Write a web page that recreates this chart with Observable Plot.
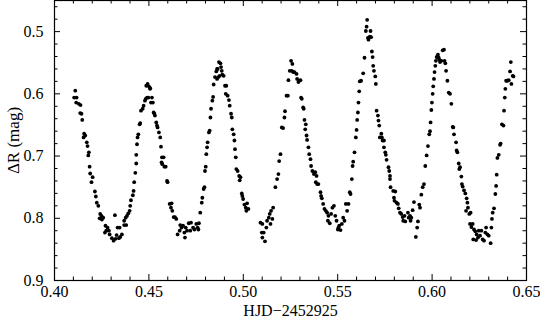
<!DOCTYPE html>
<html><head><meta charset="utf-8">
<script src="https://cdn.jsdelivr.net/npm/d3@7"></script>
<script src="https://cdn.jsdelivr.net/npm/@observablehq/plot@0.6"></script>
<style>body{margin:0;background:#fff}</style>
</head><body><div id="chart"></div>
<script>
// Light curve: HJD - 2452925 vs differential R magnitude
const hjd = [
0.4110,0.4104,0.4117,0.4115,0.4129,0.4138,0.4136,0.4143,0.4147,0.4157,0.4163,0.4154,0.4171,0.4175,0.4182,0.4179,0.4186,0.4189,0.4202,0.4196,
0.4214,0.4219,0.4224,0.4232,0.4242,0.4249,0.4258,0.4239,0.4251,0.4270,0.4281,0.4274,0.4267,0.4288,0.4320,0.4292,0.4304,0.4313,0.4323,0.4329,
0.4341,0.4348,0.4357,0.4345,0.4334,0.4369,0.4377,0.4384,0.4391,0.4398,0.4401,0.4380,0.4369,0.4405,0.4415,0.4419,0.4422,0.4428,0.4433,0.4433,
0.4437,0.4440,0.4444,0.4451,0.4454,0.4458,0.4467,0.4472,0.4479,0.4483,0.4490,0.4497,0.4486,0.4493,0.4500,0.4507,0.4506,0.4516,0.4511,0.4521,
0.4525,0.4529,0.4532,0.4539,0.4543,0.4546,0.4553,0.4560,0.4564,0.4569,0.4578,0.4567,0.4571,0.4582,0.4589,0.4596,0.4599,
0.4610,0.4620,0.4617,0.4624,0.4631,0.4638,0.4645,0.4652,0.4663,0.4666,0.4673,0.4681,0.4688,0.4691,0.4695,0.4702,0.4711,0.4719,0.4723,0.4734,
0.4741,0.4751,0.4758,0.4765,0.4762,0.4772,0.4780,0.4783,0.4790,0.4794,0.4797,0.4801,0.4804,0.4808,0.4811,0.4818,0.4822,0.4826,0.4829,0.4836,
0.4840,0.4843,0.4850,0.4857,0.4861,0.4868,0.4871,
0.4864,0.4879,0.4882,0.4886,0.4875,0.4861,0.4889,0.4896,
0.4903,0.4910,0.4907,0.4917,0.4924,0.4928,0.4935,0.4939,0.4942,0.4949,0.4953,0.4956,0.4960,0.4963,0.4970,0.4978,0.4981,0.4985,0.4992,0.4995,
0.4999,0.5006,0.5020,0.5013,0.5027,0.5016,
0.5091,0.5101,0.5098,0.5108,0.5101,0.5115,0.5122,0.5126,0.5135,0.5140,0.5147,0.5158,0.5154,0.5144,
0.5170,0.5179,0.5186,0.5190,0.5197,0.5204,0.5211,0.5218,0.5221,0.5229,0.5236,0.5239,0.5246,0.5253,0.5260,0.5257,0.5264,0.5271,0.5282,0.5285,
0.5292,0.5296,0.5303,
0.5306,0.5310,0.5317,0.5320,0.5324,0.5331,0.5328,0.5335,0.5338,0.5345,0.5349,0.5356,0.5359,0.5366,0.5374,0.5381,0.5388,0.5384,0.5391,0.5398,
0.5409,0.5412,0.5416,0.5423,0.5430,0.5437,0.5444,0.5451,0.5448,0.5458,0.5465,0.5472,0.5480,0.5487,0.5494,0.5501,0.5504,0.5508,0.5515,0.5522,
0.5529,0.5536,0.5543,0.5550,0.5557,0.5564,0.5568,0.5575,0.5579,0.5582,0.5589,0.5596,0.5600,0.5603,0.5607,0.5610,0.5614,0.5617,0.5624,0.5635,
0.5642,0.5649,0.5653,0.5656,0.5660,0.5663,0.5670,0.5674,0.5677,0.5681,0.5685,0.5688,0.5692,0.5699,0.5702,0.5706,0.5713,0.5716,0.5720,0.5723,
0.5731,0.5734,0.5738,0.5745,0.5745,0.5752,0.5755,0.5759,0.5769,0.5773,0.5777,0.5777,0.5780,0.5794,0.5805,0.5798,0.5801,0.5812,0.5819,0.5823,
0.5830,0.5837,0.5844,0.5847,0.5858,0.5854,0.5872,0.5876,0.5883,0.5886,0.5890,0.5897,0.5904,0.5914,0.5921,0.5925,0.5932,0.5936,0.5943,0.5950,
0.5957,
0.5964,0.5971,0.5978,0.5985,0.5989,0.5992,0.5996,0.5999,0.6003,0.6006,0.6010,0.6013,0.6017,0.6020,0.6024,0.6028,0.6031,0.6035,0.6038,0.6042,
0.6049,0.6056,0.6063,0.6066,0.6070,0.6074,0.6081,0.6088,0.6095,0.6102,0.6109,0.6112,0.6116,0.6127,0.6130,0.6134,0.6141,0.6144,0.6148,0.6155,
0.6158,0.6162,0.6169,0.6176,0.6183,0.6187,0.6180,0.6190,0.6197,0.6204,0.6201,0.6208,0.6215,0.6222,0.6218,0.6229,0.6236,0.6233,0.6243,0.6247,
0.6254,0.6261,0.6268,0.6275,0.6282,0.6286,0.6293,0.6300,0.6310,0.6314,0.6317,0.6321,0.6328,0.6335,0.6339,0.6342,0.6346,0.6353,0.6360,0.6363,
0.6370,0.6378,0.6381,0.6385,0.6388,0.6392,0.6399,0.6406,0.6413,0.6417,0.6420,0.6427,0.6431
];
const dR = [
0.595,0.606,0.606,0.614,0.616,0.618,0.631,0.632,0.642,0.664,0.667,0.670,0.678,0.684,0.694,0.699,0.717,0.728,0.734,0.742,
0.757,0.765,0.775,0.780,0.793,0.796,0.799,0.800,0.802,0.812,0.815,0.820,0.823,0.820,0.795,0.826,0.832,0.836,0.833,0.827,
0.832,0.830,0.826,0.815,0.815,0.804,0.799,0.796,0.792,0.788,0.780,0.811,0.811,0.771,0.763,0.756,0.742,0.727,0.712,0.698,
0.681,0.670,0.665,0.649,0.647,0.627,0.624,0.619,0.611,0.608,0.606,0.606,0.587,0.584,0.588,0.591,0.592,0.606,0.614,0.614,
0.630,0.632,0.635,0.646,0.651,0.654,0.662,0.670,0.685,0.702,0.702,0.710,0.713,0.717,0.717,0.740,0.742,
0.777,0.776,0.783,0.788,0.798,0.798,0.801,0.826,0.820,0.811,0.815,0.812,0.823,0.831,0.815,0.820,0.808,0.820,0.807,0.815,
0.818,0.809,0.815,0.808,0.818,0.791,0.775,0.767,0.753,0.750,0.724,0.717,0.697,0.686,0.678,0.662,0.659,0.638,0.624,0.611,
0.605,0.585,0.573,0.564,0.560,0.573,0.549,
0.560,0.551,0.557,0.563,0.571,0.576,0.569,0.571,
0.587,0.587,0.600,0.603,0.610,0.619,0.632,0.638,0.657,0.665,0.675,0.689,0.702,0.721,0.724,0.732,0.739,0.734,0.760,0.764,
0.769,0.778,0.776,0.783,0.785,0.788,
0.807,0.809,0.823,0.823,0.831,0.837,0.815,0.804,0.799,0.793,0.788,0.783,0.801,0.809,
0.750,0.737,0.729,0.708,0.697,0.654,0.655,0.638,0.628,0.603,0.603,0.578,0.563,0.547,0.552,0.563,0.565,0.565,0.568,0.576,
0.581,0.579,0.578,
0.606,0.608,0.622,0.624,0.642,0.649,0.657,0.667,0.674,0.686,0.697,0.705,0.716,0.724,0.729,0.726,0.732,0.742,0.745,0.745,
0.758,0.764,0.768,0.777,0.785,0.788,0.791,0.796,0.804,0.808,0.793,0.783,0.780,0.796,0.804,0.818,0.815,0.812,0.819,0.809,
0.799,0.804,0.777,0.788,0.777,0.758,0.761,0.737,0.716,0.709,0.694,0.670,0.658,0.642,0.630,0.614,0.596,0.580,0.579,0.567,
0.542,0.499,0.492,0.481,0.510,0.513,0.508,0.499,0.509,0.532,0.541,0.555,0.563,0.572,0.584,0.627,0.635,0.643,0.651,0.670,
0.664,0.670,0.675,0.675,0.686,0.694,0.698,0.706,0.718,0.724,0.732,0.737,0.750,0.756,0.757,0.767,0.772,0.775,0.777,0.784,
0.791,0.793,0.798,0.804,0.805,0.796,0.791,0.799,0.796,0.804,0.799,0.787,0.774,0.830,0.815,0.805,0.778,0.783,0.762,0.750,
0.745,
0.716,0.699,0.684,0.665,0.660,0.646,0.626,0.614,0.600,0.588,0.576,0.565,0.555,0.547,0.541,0.540,0.537,0.542,0.545,0.549,
0.547,0.530,0.529,0.547,0.551,0.563,0.579,0.598,0.600,0.616,0.653,0.654,0.665,0.678,0.691,0.694,0.712,0.721,0.718,0.733,
0.745,0.749,0.755,0.760,0.768,0.775,0.788,0.783,0.793,0.791,0.809,0.814,0.809,0.818,0.834,0.821,0.826,0.835,0.831,0.820,
0.828,0.820,0.834,0.836,0.823,0.815,0.826,0.828,0.840,0.815,0.801,0.791,0.784,0.761,0.748,0.730,0.703,0.698,0.682,0.680,
0.649,0.651,0.627,0.606,0.592,0.579,0.579,0.578,0.564,0.549,0.584,0.571,0.572
];
const xTicks = [0.40, 0.45, 0.50, 0.55, 0.60, 0.65];
const yTicks = [0.5, 0.6, 0.7, 0.8, 0.9];
const xMinor = [0.41,0.42,0.43,0.44,0.46,0.47,0.48,0.49,0.51,0.52,0.53,0.54,0.56,0.57,0.58,0.59,0.61,0.62,0.63,0.64];
const yMinor = [0.46,0.48,0.52,0.54,0.56,0.58,0.62,0.64,0.66,0.68,0.72,0.74,0.76,0.78,0.82,0.84,0.86,0.88];

const points = hjd.map((x, i) => ({x, y: dR[i]}));

const W = 540, H = 324, mL = 54, mR = 14, mT = 0, mB = 44;
const pw = W - mL - mR, ph = H - mT - mB;
const major = 6, minor = 3.5;

const chart = Plot.plot({
  width: W, height: H,
  marginLeft: mL, marginRight: mR, marginTop: mT, marginBottom: mB,
  style: {fontFamily: "'Liberation Serif', 'DejaVu Serif', serif", fontSize: "16px", color: "#000", background: "#fff"},
  x: {domain: [0.40, 0.65], ticks: xTicks, tickFormat: d3.format(".2f"), tickSize: 0, tickPadding: 5, label: null},
  y: {domain: [0.45, 0.9], reverse: true, ticks: yTicks, tickFormat: d3.format(".1f"), tickSize: 0, tickPadding: 11, label: null},
  marks: [
    Plot.dot(points, {x: "x", y: "y", r: 1.9, fill: "#000", stroke: "none"}),
    // inward ticks on all four sides
    Plot.ruleX(xTicks, {x: d => d, insetTop: ph - major, stroke: "#000"}),
    Plot.ruleX(xTicks, {x: d => d, insetBottom: ph - major, stroke: "#000"}),
    Plot.ruleX(xMinor, {x: d => d, insetTop: ph - minor, stroke: "#000"}),
    Plot.ruleX(xMinor, {x: d => d, insetBottom: ph - minor, stroke: "#000"}),
    Plot.ruleY(yTicks, {y: d => d, insetRight: pw - major, stroke: "#000"}),
    Plot.ruleY(yTicks, {y: d => d, insetLeft: pw - major, stroke: "#000"}),
    Plot.ruleY(yMinor, {y: d => d, insetRight: pw - minor, stroke: "#000"}),
    Plot.ruleY(yMinor, {y: d => d, insetLeft: pw - minor, stroke: "#000"}),
    Plot.frame({stroke: "#000", strokeWidth: 1.2}),
    Plot.text(["HJD\u22122452925"], {frameAnchor: "bottom", lineAnchor: "middle", textAnchor: "middle", dy: 30, fontSize: 16, text: d => d, fill: "#000"}),
    Plot.text(["\u0394R (mag)"], {frameAnchor: "left", lineAnchor: "middle", textAnchor: "middle", dx: -41, rotate: -90, fontSize: 17, text: d => d, fill: "#000"})
  ]
});
document.getElementById("chart").appendChild(chart);
</script>
</body></html>
